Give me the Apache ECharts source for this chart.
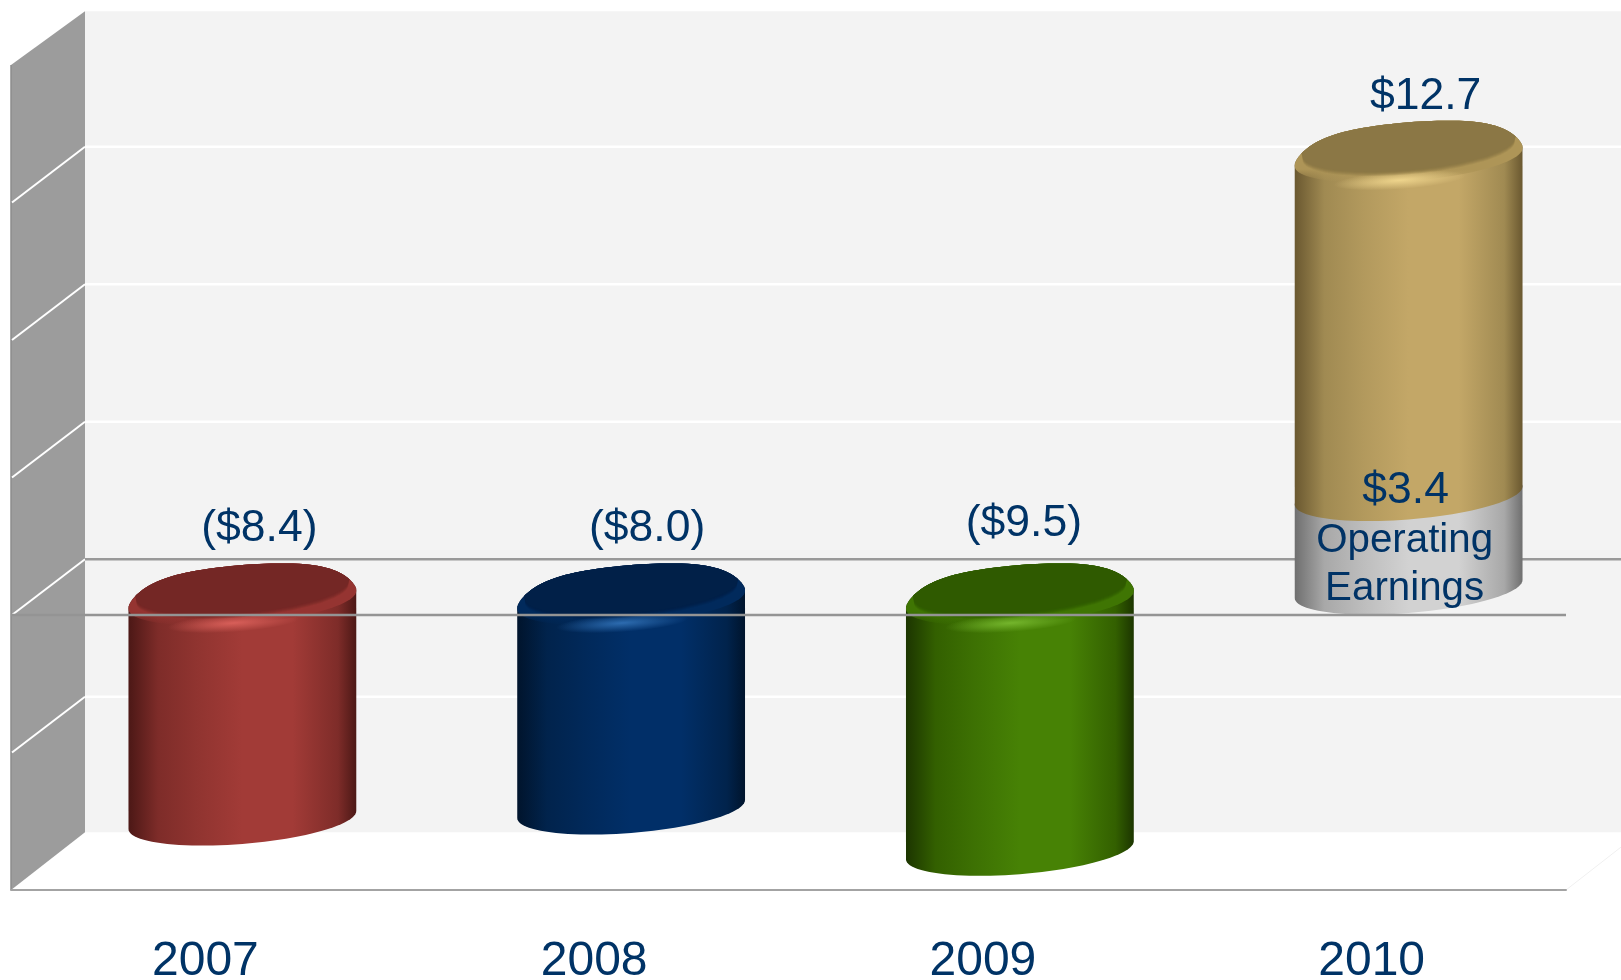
<!DOCTYPE html>
<html>
<head>
<meta charset="utf-8">
<style>html,body{margin:0;padding:0;background:#fff}#chart{width:1621px;height:980px}</style>
<script src="https://cdn.jsdelivr.net/npm/echarts@6/dist/echarts.min.js"></script>
</head>
<body>
<div id="chart"></div>
<script>
// Yearly results, in $ millions, drawn as stacked 3D cylinders
const years = ['2007', '2008', '2009', '2010'];
const segmentYear = [0, 1, 2, 3, 3];
const segmentBase = [0, 0, 0, 0, 3.4];
const segmentValue = [-8.4, -8.0, -9.5, 3.4, 12.7];
const segmentCaption = ['', '', '', 'Operating\nEarnings', ''];
const gridValues = [-5, 0, 5, 10, 15];

// Label placement relative to each cylinder's upper end
const labelNudge = [[17, -86], [16, -86], [4, -91.5], [-3, -31], [17, -76]];

const palette = [
  { edge: '#4c1816', shoulder: '#7e2c29', center: '#a23b37', face: '#742725', rim: '#953431', glow: '#d85f59' },
  { edge: '#00142c', shoulder: '#01234c', center: '#012f68', face: '#012048', rim: '#012a5c', glow: '#2d6cb0' },
  { edge: '#1c3500', shoulder: '#336000', center: '#478205', face: '#2f5a00', rim: '#3f7503', glow: '#74b52c' },
  { edge: '#6f6f6f', shoulder: '#a8a8a8', center: '#d2d2d2' },
  { edge: '#6a5830', shoulder: '#a08a52', center: '#c3a767', face: '#8b7745', rim: '#ae9557', glow: '#eed48c' }
];

const INK = '#003366';
const FONT = '"Liberation Sans", Arial, sans-serif';
const DEPTH_X = 74, DEPTH_Y = -55.7, WALL_INSET = 2;
const CENTER_SHIFT = 37;
const SHEAR = -9, MINOR = 24, FRONT_DROP = 26, CORNER = 10;

// Points along a sheared ellipse; corner rounds the ends of the arc downward
function arc(cx, cy, a, b, k, from, to, corner) {
  const pts = [];
  for (let i = 0; i <= 48; i++) {
    const t = from + (to - from) * i / 48;
    const c = Math.cos(t), s = Math.sin(t);
    pts.push([cx + a * c, cy + b * s + k * c + corner * Math.pow(Math.abs(c), 6)]);
  }
  return pts;
}

function horizontalShade(p) {
  return new echarts.graphic.LinearGradient(0, 0, 1, 0, [
    { offset: 0, color: p.edge },
    { offset: 0.13, color: p.shoulder },
    { offset: 0.3, color: echarts.color.lerp(0.5, [p.shoulder, p.center]) },
    { offset: 0.5, color: p.center },
    { offset: 0.72, color: p.center },
    { offset: 0.92, color: p.shoulder },
    { offset: 1, color: p.edge }
  ]);
}

function renderStage(params, api) {
  const cs = params.coordSys;
  const left = cs.x, right = cs.x + cs.width;
  const top = api.coord([0, 20])[1];
  const bottom = api.coord([0, -10])[1];
  const backTop = top + DEPTH_Y + WALL_INSET, backBottom = bottom + DEPTH_Y - WALL_INSET;
  const kids = [];
  kids.push({ type: 'rect', shape: { x: left + DEPTH_X, y: backTop, width: cs.width, height: backBottom - backTop }, style: { fill: '#f3f3f3' } });
  kids.push({ type: 'line', shape: { x1: right, y1: bottom, x2: right + DEPTH_X, y2: backBottom }, style: { stroke: '#f0f0f0', lineWidth: 1 } });
  kids.push({ type: 'polygon', shape: { points: [[left, top], [left + DEPTH_X, backTop], [left + DEPTH_X, backBottom], [left, bottom]] }, style: { fill: '#9c9c9c' } });
  kids.push({ type: 'line', shape: { x1: left, y1: top, x2: left, y2: bottom }, style: { stroke: '#8c8c8c', lineWidth: 1.5 } });
  gridValues.forEach(function (v) {
    const y = api.coord([0, v])[1];
    kids.push({ type: 'line', shape: { x1: left + 1, y1: y, x2: left + DEPTH_X, y2: y + DEPTH_Y }, style: { stroke: '#ffffff', lineWidth: 2 } });
    kids.push({ type: 'line', shape: { x1: left + DEPTH_X, y1: y + DEPTH_Y, x2: right + DEPTH_X, y2: y + DEPTH_Y }, style: { stroke: v === 0 ? '#999999' : '#ffffff', lineWidth: 2.5 } });
  });
  return { type: 'group', children: kids };
}

function moneyText(v) {
  const s = '$' + Math.abs(v).toFixed(1);
  return v < 0 ? '(' + s + ')' : s;
}

function segmentEnds(api) {
  const base = api.value(1), amount = api.value(2);
  return {
    hi: api.coord([api.value(0), Math.max(base, base + amount)]),
    lo: api.coord([api.value(0), Math.min(base, base + amount)]),
    amount: amount
  };
}

function renderCylinder(params, api) {
  const p = palette[params.dataIndex];
  const ends = segmentEnds(api);
  const a = api.size([1, 0])[0] * 0.293;
  const cx = ends.hi[0] + CENTER_SHIFT;
  const cyTop = ends.hi[1] - FRONT_DROP, cyBottom = ends.lo[1] - FRONT_DROP;
  const capped = !!p.face;
  const corner = capped ? CORNER : 0;
  const upper = arc(cx, cyTop, a, MINOR, SHEAR, Math.PI, 2 * Math.PI, corner);
  const kids = [{
    type: 'polygon',
    shape: { points: upper.concat(arc(cx, cyBottom, a, MINOR, SHEAR, 0, Math.PI, 0)) },
    style: { fill: horizontalShade(p) }
  }];
  if (capped) {
    kids.push({
      type: 'polygon',
      shape: { points: upper.concat(arc(cx, cyTop + 11, a, MINOR, SHEAR, 0, Math.PI, 0)) },
      style: {
        fill: new echarts.graphic.LinearGradient(0, 0, 0, 1, [
          { offset: 0, color: p.rim },
          { offset: 0.78, color: p.rim },
          { offset: 1, color: echarts.color.modifyAlpha(p.rim, 0) }
        ])
      }
    });
    kids.push({
      type: 'circle',
      x: cx - 9, y: ends.hi[1] + 8, scaleX: 66, scaleY: 9, rotation: 0.07,
      shape: { cx: 0, cy: 0, r: 1 },
      style: {
        fill: new echarts.graphic.RadialGradient(0.5, 0.5, 0.5, [
          { offset: 0, color: p.glow },
          { offset: 1, color: echarts.color.modifyAlpha(p.glow, 0) }
        ])
      }
    });
    // Flat end face: follows the outline at the back, curves inward at the front.
    // Stacked translucent copies give its front edge a soft falloff.
    const back = arc(cx, cyTop, a, MINOR, SHEAR, Math.PI + 0.35, 2 * Math.PI - 0.35, corner);
    [[4, 0.25], [3, 0.35], [2, 0.45], [1, 0.6], [0, 1]].forEach(function (step) {
      const front = arc(cx, cyTop + 1 + step[0], a * 0.93, 23, SHEAR, 0, Math.PI, 0);
      kids.push({
        type: 'polygon',
        shape: { points: back.concat(front) },
        style: { fill: p.face, opacity: step[1] }
      });
    });
  }
  return { type: 'group', children: kids };
}

function renderLabel(params, api) {
  const i = params.dataIndex;
  const ends = segmentEnds(api);
  const cx = ends.hi[0] + CENTER_SHIFT;
  const nudge = labelNudge[i];
  const kids = [{
    type: 'text', x: cx + nudge[0], y: ends.hi[1] + nudge[1],
    style: { text: moneyText(ends.amount), fill: INK, font: '44.5px ' + FONT, align: 'center', verticalAlign: 'middle' }
  }];
  if (segmentCaption[i]) {
    kids.push({
      type: 'text', x: cx - 4, y: ends.hi[1] + 43.5,
      style: { text: segmentCaption[i], fill: INK, font: '40.3px ' + FONT, lineHeight: 48, align: 'center', verticalAlign: 'middle' }
    });
  }
  return { type: 'group', children: kids };
}

function renderZeroLine(params, api) {
  const cs = params.coordSys;
  const y = api.coord([0, 0])[1];
  return { type: 'line', shape: { x1: cs.x, y1: y, x2: cs.x + cs.width, y2: y }, style: { stroke: '#949494', lineWidth: 2.5 } };
}

const segmentRows = segmentValue.map(function (v, i) { return [segmentYear[i], segmentBase[i], v]; });

const chart = echarts.init(document.getElementById('chart'), null, { renderer: 'canvas' });
chart.setOption({
  animation: false,
  backgroundColor: '#ffffff',
  grid: { left: 11, top: 65, width: 1555, height: 825, outerBoundsMode: 'none' },
  xAxis: {
    type: 'category',
    data: years,
    axisLine: { onZero: false, lineStyle: { color: '#a3a3a3', width: 2 } },
    axisTick: { show: false },
    axisLabel: { color: INK, fontFamily: FONT, fontSize: 48, margin: 48 },
    z: 3
  },
  yAxis: {
    type: 'value', min: -10, max: 20, interval: 5,
    axisLine: { show: false }, axisTick: { show: false }, axisLabel: { show: false }, splitLine: { show: false }
  },
  series: [
    { type: 'custom', z: 1, silent: true, renderItem: renderStage, data: [[0, 0]], encode: { x: 0, y: 1 } },
    { type: 'custom', z: 4, silent: true, renderItem: renderCylinder, data: segmentRows, encode: { x: 0, y: [1, 2] } },
    { type: 'custom', z: 5, silent: true, renderItem: renderZeroLine, data: [[0, 0]], encode: { x: 0, y: 1 } },
    { type: 'custom', z: 6, silent: true, renderItem: renderLabel, data: segmentRows, encode: { x: 0, y: [1, 2] } }
  ]
});
</script>
</body>
</html>
